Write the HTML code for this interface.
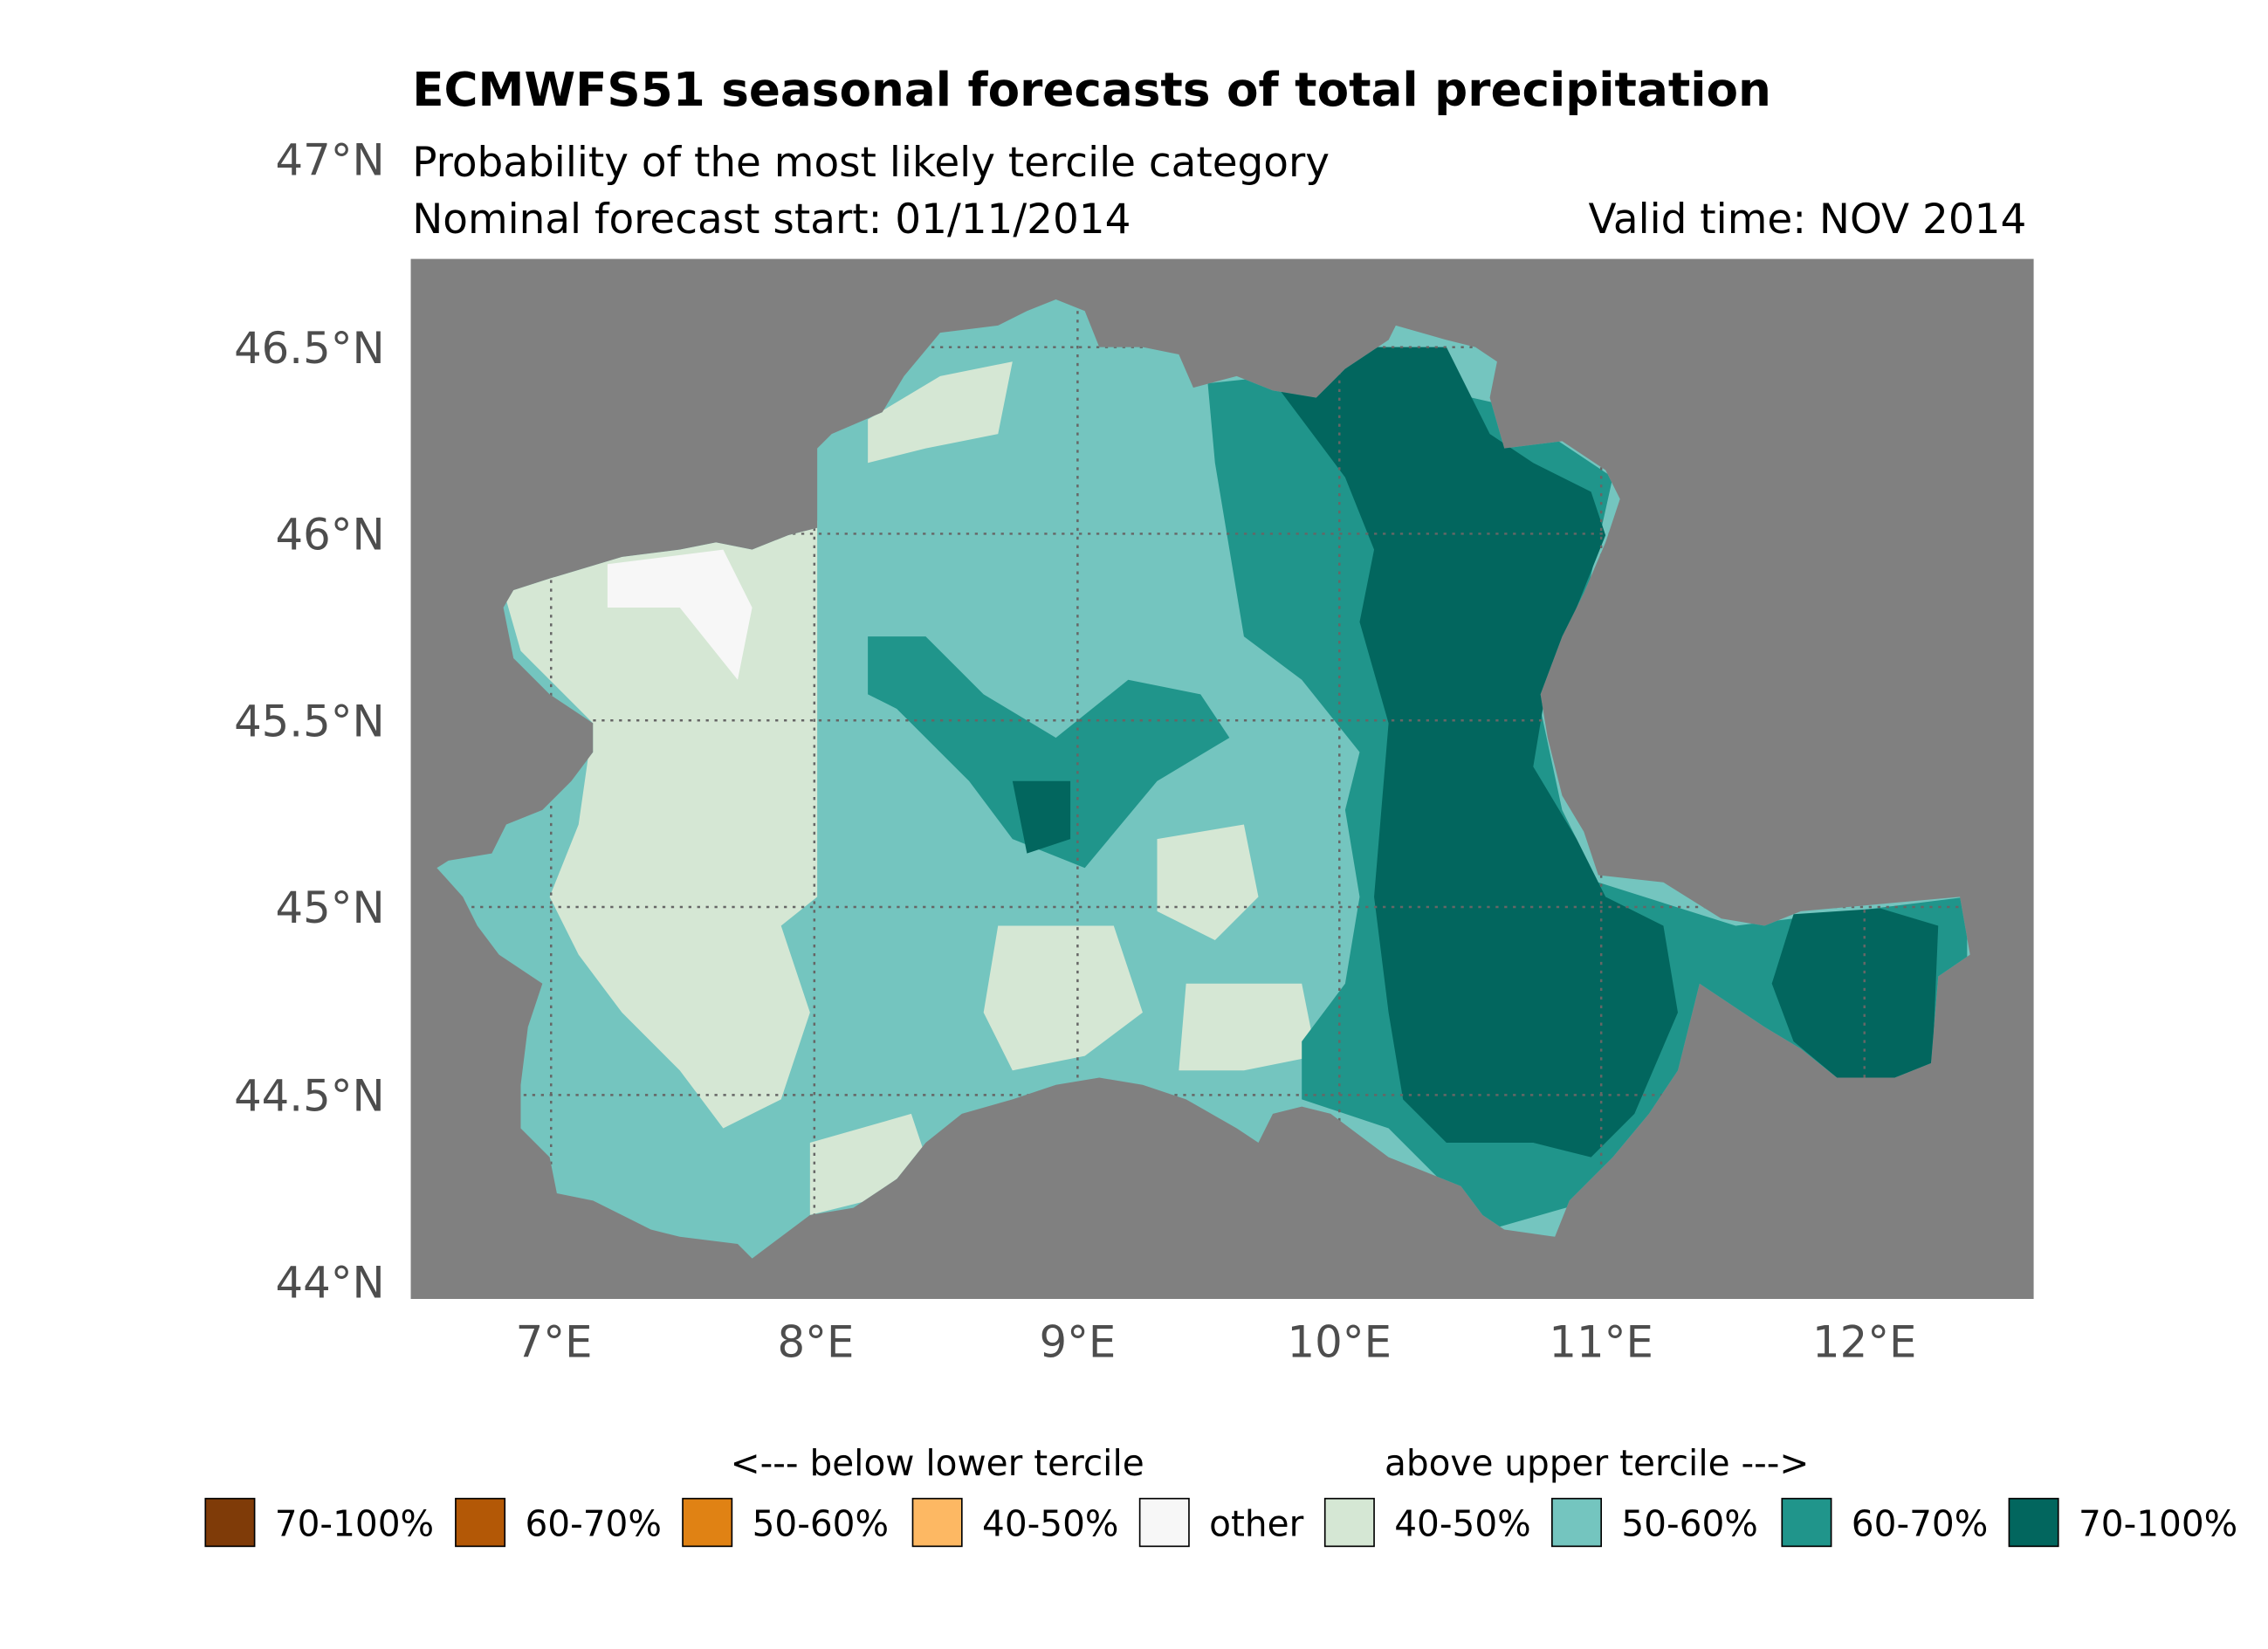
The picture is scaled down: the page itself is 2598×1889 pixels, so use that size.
<!DOCTYPE html>
<html><head><meta charset="utf-8"><style>
html,body{margin:0;padding:0;background:#fff}
svg{display:block}
text{font-family:"DejaVu Sans","Liberation Sans",sans-serif}
</style></head><body>
<svg width="2598" height="1889" viewBox="0 0 1568 1140" preserveAspectRatio="none" xmlns="http://www.w3.org/2000/svg">
<rect width="1568" height="1140" fill="#fff"/>
<text x="285" y="73" font-size="32.1" font-weight="bold" fill="#000">ECMWFS51 seasonal forecasts of total precipitation</text>
<text x="285" y="122" font-size="28.3" fill="#000">Probability of the most likely tercile category</text>
<text x="285" y="161" font-size="28.3" fill="#000">Nominal forecast start: 01/11/2014</text>
<text x="1401" y="161" font-size="28.3" fill="#000" text-anchor="end">Valid time: NOV 2014</text>
<rect x="284" y="179" width="1122" height="719" fill="#808080"/>
<defs><clipPath id="c"><polygon points="302,600 310,595 340,590 350,570 375,560 395,540 410,520 410,500 380,480 355,455 348,420 355,408 380,400 430,385 470,380 495,375 520,380 545,370 565,365 565,310 575,300 610,285 625,260 650,230 690,225 710,215 730,207 750,215 760,240 790,240 815,245 825,268 855,260 880,270 910,275 930,255 960,235 965,225 1000,235 1020,240 1035,250 1030,275 1040,310 1080,305 1110,325 1120,345 1110,375 1095,410 1080,440 1065,480 1070,510 1080,550 1095,575 1105,605 1150,610 1190,635 1220,640 1245,630 1300,625 1355,620 1362,660 1340,675 1335,735 1310,745 1270,745 1245,725 1220,710 1175,680 1160,740 1140,770 1115,800 1085,830 1075,855 1040,850 1025,840 1010,820 985,810 960,800 940,785 920,770 900,765 880,770 870,790 855,780 820,760 790,750 760,745 730,750 700,760 665,770 640,790 620,815 590,835 560,840 540,855 520,870 510,860 470,855 450,850 410,830 385,825 380,800 360,780 360,750 365,710 375,680 345,660 330,640 320,620"/></clipPath></defs>
<g clip-path="url(#c)">
<rect x="284" y="179" width="1122" height="719" fill="#74c5bf"/>
<polygon fill="#d5e7d4" points="340,380 565,360 565,620 540,640 560,700 540,760 500,780 470,740 430,700 400,660 380,620 400,570 410,500 360,450"/>
<polygon fill="#d5e7d4" points="690,640 770,640 790,700 750,730 700,740 680,700"/>
<polygon fill="#d5e7d4" points="800,580 860,570 870,620 840,650 800,630"/>
<polygon fill="#d5e7d4" points="560,790 630,770 640,800 600,830 560,840"/>
<polygon fill="#d5e7d4" points="820,680 900,680 910,730 860,740 815,740"/>
<polygon fill="#d5e7d4" points="600,290 650,260 700,250 690,300 640,310 600,320"/>
<polygon fill="#f7f7f7" points="420,390 500,380 520,420 510,470 470,420 420,420"/>
<polygon fill="#20958b" points="835,265 930,255 1040,280 1115,330 1095,420 1065,490 1080,560 1105,610 1200,640 1360,620 1360,680 1330,760 1160,760 1100,830 1030,850 960,780 900,760 900,720 930,680 940,620 930,560 940,520 900,470 860,440 850,380 840,320"/>
<polygon fill="#20958b" points="600,440 640,440 680,480 730,510 780,470 830,480 850,510 800,540 750,600 700,580 670,540 620,490 600,480"/>
<polygon fill="#02665e" points="885,270 940,240 1000,240 1030,300 1060,320 1100,340 1110,370 1090,420 1070,470 1060,530 1090,580 1110,620 1150,640 1160,700 1130,770 1100,800 1060,790 1000,790 970,760 960,700 950,620 955,560 960,500 940,430 950,380 930,330"/>
<polygon fill="#02665e" points="1240,632 1300,628 1340,640 1336,735 1310,745 1270,745 1240,720 1225,680"/>
<polygon fill="#02665e" points="700,540 740,540 740,580 710,590"/>
</g>
<g stroke="#666" stroke-width="1.5" stroke-dasharray="2,4" fill="none" clip-path="url(#c)">
<line x1="381" y1="179" x2="381" y2="898"/><line x1="563" y1="179" x2="563" y2="898"/><line x1="745" y1="179" x2="745" y2="898"/><line x1="926" y1="179" x2="926" y2="898"/><line x1="1107" y1="179" x2="1107" y2="898"/><line x1="1289" y1="179" x2="1289" y2="898"/>
<line x1="284" y1="240" x2="1406" y2="240"/><line x1="284" y1="369" x2="1406" y2="369"/><line x1="284" y1="498" x2="1406" y2="498"/><line x1="284" y1="627" x2="1406" y2="627"/><line x1="284" y1="757" x2="1406" y2="757"/>
</g>
<g font-size="30" fill="#4d4d4d" text-anchor="end">
<text x="266" y="121">47°N</text><text x="266" y="251">46.5°N</text><text x="266" y="380">46°N</text><text x="266" y="509">45.5°N</text><text x="266" y="638">45°N</text><text x="266" y="768">44.5°N</text><text x="266" y="897">44°N</text>
</g>
<g font-size="30" fill="#4d4d4d" text-anchor="middle">
<text x="383" y="938">7°E</text><text x="564" y="938">8°E</text><text x="745" y="938">9°E</text><text x="926" y="938">10°E</text><text x="1107" y="938">11°E</text><text x="1289" y="938">12°E</text>
</g>
<g font-size="24.5" fill="#000">
<text x="648" y="1020" text-anchor="middle">&lt;--- below lower tercile</text>
<text x="1104" y="1020" text-anchor="middle">above upper tercile ---&gt;</text>
<g stroke="#000" stroke-width="1">
<rect x="142" y="1036" width="34" height="33" fill="#7f3b08"/>
<rect x="315" y="1036" width="34" height="33" fill="#b35806"/>
<rect x="472" y="1036" width="34" height="33" fill="#e08214"/>
<rect x="631" y="1036" width="34" height="33" fill="#fdb863"/>
<rect x="788" y="1036" width="34" height="33" fill="#f7f7f7"/>
<rect x="916" y="1036" width="34" height="33" fill="#d5e7d4"/>
<rect x="1073" y="1036" width="34" height="33" fill="#74c5bf"/>
<rect x="1232" y="1036" width="34" height="33" fill="#20958b"/>
<rect x="1389" y="1036" width="34" height="33" fill="#02665e"/>
</g>
<text x="190" y="1062">70-100%</text><text x="363" y="1062">60-70%</text><text x="520" y="1062">50-60%</text><text x="679" y="1062">40-50%</text><text x="836" y="1062">other</text><text x="964" y="1062">40-50%</text><text x="1121" y="1062">50-60%</text><text x="1280" y="1062">60-70%</text><text x="1437" y="1062">70-100%</text>
</g>
</svg>
</body></html>
